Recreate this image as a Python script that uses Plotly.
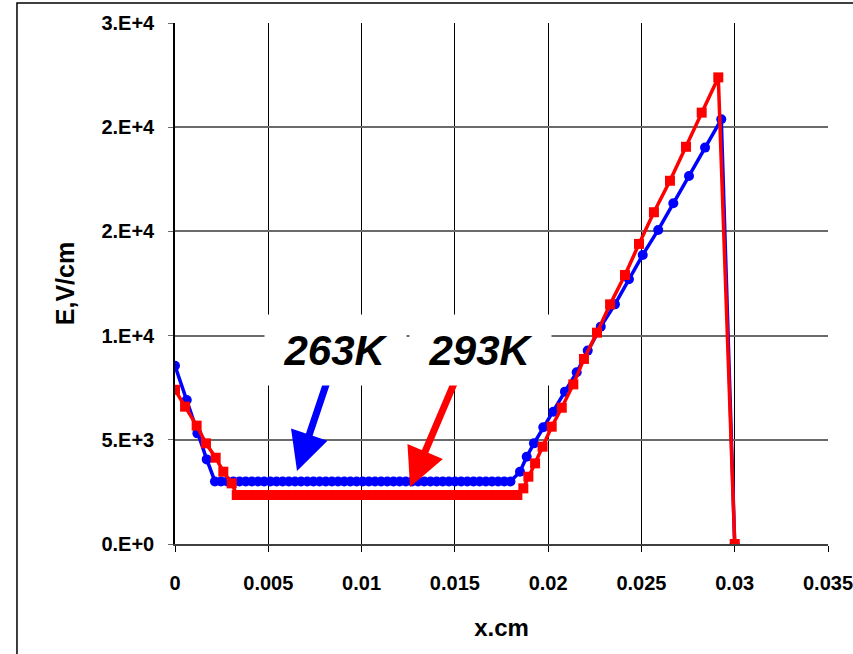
import plotly.graph_objects as go

# Electric field profile E(x) across the sample at two temperatures
x_263 = [0.0, 0.00063, 0.0012, 0.0017,
         0.00214, 0.00247, 0.00280, 0.00313, 0.00346, 0.00379, 0.00412, 0.00445,
         0.00478, 0.00511, 0.00544, 0.00577, 0.00610, 0.00643, 0.00676, 0.00709,
         0.00742, 0.00775, 0.00808, 0.00841, 0.00874, 0.00907, 0.00940, 0.00973,
         0.01006, 0.01039, 0.01072, 0.01105, 0.01138, 0.01171, 0.01204, 0.01237,
         0.01270, 0.01303, 0.01336, 0.01369, 0.01402, 0.01435, 0.01468, 0.01501,
         0.01534, 0.01567, 0.01600, 0.01633, 0.01666, 0.01699, 0.01732, 0.01765,
         0.01798,
         0.01849, 0.01885, 0.01924, 0.01974, 0.02028, 0.0209, 0.02153, 0.02212,
         0.02282, 0.02358, 0.02433, 0.02507, 0.0259, 0.02671, 0.02755, 0.02841,
         0.02928, 0.03]
e_263 = [8550, 6910, 5310, 4060,
         3000, 3000, 3000, 3000, 3000, 3000, 3000, 3000,
         3000, 3000, 3000, 3000, 3000, 3000, 3000, 3000,
         3000, 3000, 3000, 3000, 3000, 3000, 3000, 3000,
         3000, 3000, 3000, 3000, 3000, 3000, 3000, 3000,
         3000, 3000, 3000, 3000, 3000, 3000, 3000, 3000,
         3000, 3000, 3000, 3000, 3000, 3000, 3000, 3000,
         3000,
         3470, 4190, 4830, 5600, 6350, 7310, 8240, 9280,
         10430, 11500, 12700, 13870, 15070, 16350, 17660, 19020,
         20380, 0]

x_293 = [0.0, 0.00054, 0.00116, 0.00166, 0.00218, 0.00259, 0.00304,
         0.00331, 0.00364, 0.00397, 0.00430, 0.00463, 0.00496, 0.00529, 0.00562,
         0.00595, 0.00628, 0.00661, 0.00694, 0.00727, 0.00760, 0.00793, 0.00826,
         0.00859, 0.00892, 0.00925, 0.00958, 0.00991, 0.01024, 0.01057, 0.01090,
         0.01123, 0.01156, 0.01189, 0.01222, 0.01255, 0.01288, 0.01321, 0.01354,
         0.01387, 0.01420, 0.01453, 0.01486, 0.01519, 0.01552, 0.01585, 0.01618,
         0.01651, 0.01684, 0.01717, 0.01750, 0.01783, 0.01816, 0.01835,
         0.01867, 0.01894, 0.0193, 0.0197, 0.02019, 0.02073, 0.02135, 0.02192,
         0.02262, 0.02332, 0.02412, 0.02487, 0.02567, 0.02653, 0.02739, 0.02823,
         0.02912, 0.03]
e_293 = [7400, 6590, 5680, 4830, 4140, 3470, 2910,
         2350, 2350, 2350, 2350, 2350, 2350, 2350, 2350,
         2350, 2350, 2350, 2350, 2350, 2350, 2350, 2350,
         2350, 2350, 2350, 2350, 2350, 2350, 2350, 2350,
         2350, 2350, 2350, 2350, 2350, 2350, 2350, 2350,
         2350, 2350, 2350, 2350, 2350, 2350, 2350, 2350,
         2350, 2350, 2350, 2350, 2350, 2350, 2350,
         2670, 3230, 3870, 4670, 5630, 6540, 7660, 8880,
         10140, 11500, 12910, 14400, 15920, 17430, 19060, 20700,
         22390, 0]

x_ticks = [0, 0.005, 0.01, 0.015, 0.02, 0.025, 0.03, 0.035]
x_ticktext = ["0", "0.005", "0.01", "0.015", "0.02", "0.025", "0.03", "0.035"]
y_ticks = [0, 5000, 10000, 15000, 20000, 25000]
y_ticktext = ["0.E+0", "5.E+3", "1.E+4", "2.E+4", "2.E+4", "3.E+4"]

FONT = "Arial, Liberation Sans, sans-serif"

fig = go.Figure()
fig.add_trace(go.Scatter(
    x=x_263, y=e_263, mode="lines+markers", name="263K",
    line=dict(color="#0000FF", width=3.5),
    marker=dict(symbol="circle", size=10, color="#0000FF"),
))
fig.add_trace(go.Scatter(
    x=x_293, y=e_293, mode="lines+markers", name="293K",
    line=dict(color="#FF0000", width=3.5),
    marker=dict(symbol="square", size=10, color="#FF0000"),
))

# arrows pointing from the labels to their curves
fig.add_annotation(x=0.00654, y=3500, ax=0.0082, ay=7920, axref="x", ayref="y",
                   text="", showarrow=True, arrowhead=2, arrowsize=1.1,
                   arrowwidth=7, arrowcolor="#0000FF", standoff=0)
fig.add_annotation(x=0.0126, y=2740, ax=0.01506, ay=7920, axref="x", ayref="y",
                   text="", showarrow=True, arrowhead=2, arrowsize=1.1,
                   arrowwidth=7, arrowcolor="#FF0000", standoff=0)

# temperature labels on white boxes
for label, xc in [("263K", 0.00859), ("293K", 0.01636)]:
    fig.add_annotation(x=xc, y=9300, text=label, showarrow=False,
                       bgcolor="white", borderpad=10, width=121, height=50,
                       font=dict(family=FONT, size=42, color="black",
                                 weight="bold", style="italic"))

# chart frame
fig.add_shape(type="rect", xref="paper", yref="paper",
              x0=-0.242, x1=1.06, y0=-0.23, y1=1.0384,
              line=dict(color="black", width=1.5), fillcolor="rgba(0,0,0,0)",
              layer="below")

fig.update_layout(
    width=853, height=654,
    margin=dict(l=175, r=25, t=23, b=110, autoexpand=False),
    paper_bgcolor="white", plot_bgcolor="white",
    showlegend=False,
    font=dict(family=FONT, color="black"),
)
fig.update_xaxes(
    range=[0, 0.035], tickmode="array", tickvals=x_ticks, ticktext=x_ticktext,
    showgrid=True, gridcolor="black", gridwidth=1,
    showline=True, linecolor="#404040", linewidth=2,
    ticks="outside", ticklen=6, tickcolor="black", tickwidth=1,
    ticklabelstandoff=14, ticklabeloverflow="allow", automargin=False,
    tickfont=dict(family=FONT, size=20, weight="bold"),
    zeroline=False,
    title=dict(text="x.cm", standoff=26,
               font=dict(family=FONT, size=24, weight="bold")),
)
fig.update_yaxes(
    range=[0, 25000], tickmode="array", tickvals=y_ticks, ticktext=y_ticktext,
    showgrid=True, gridcolor="#6a6a6a", gridwidth=1.5,
    showline=True, linecolor="black", linewidth=1.5,
    ticks="outside", ticklen=5, tickcolor="#6a6a6a", tickwidth=1,
    ticklabelstandoff=10, automargin=False,
    tickfont=dict(family=FONT, size=20, weight="bold"),
    zeroline=False,
    title=dict(text="E,V/cm", standoff=20,
               font=dict(family=FONT, size=25, weight="bold")),
)

fig.write_html("out.html")
